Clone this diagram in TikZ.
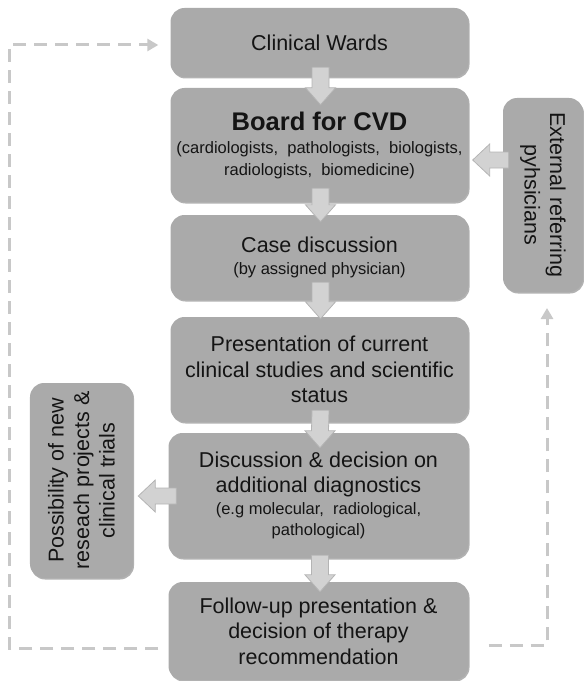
\documentclass[tikz,border=0pt]{standalone}
\usepackage{fontspec}
\setmainfont{Liberation Sans}
\usetikzlibrary{arrows.meta,calc,shadows}
\definecolor{boxgray}{RGB}{170,170,170}
\definecolor{arrfill}{RGB}{210,210,210}
\definecolor{arrline}{RGB}{180,180,180}
\definecolor{dashgray}{RGB}{200,200,200}
\definecolor{txtcol}{RGB}{20,20,20}
\newcommand\mainsz{\fontsize{21.5bp}{25.5bp}\selectfont}
\newcommand\smallsz{\fontsize{16.5bp}{19.5bp}\selectfont}
\newcommand\boldsz{\fontsize{25.5bp}{29bp}\selectfont\bfseries}
\begin{document}
\begin{tikzpicture}[x=1bp,y=-1bp,
  flowbox/.style={rectangle, rounded corners=14bp, fill=boxgray, text=txtcol,
    align=center, inner sep=0pt, font=\mainsz,
    drop shadow={shadow xshift=1bp, shadow yshift=-1.5bp, opacity=0.3, fill=black}},
  blockarrow/.style={fill=arrfill, draw=arrline, line width=0.8bp, line join=miter},
  vblock/.style={to path={($(\tikztostart)+(-8.5bp,0bp)$) -- ($(\tikztotarget)+(-8.5bp,17bp)$)
     -- ($(\tikztotarget)+(-15bp,17bp)$) -- (\tikztotarget) -- ($(\tikztotarget)+(15bp,17bp)$)
     -- ($(\tikztotarget)+(8.5bp,17bp)$) -- ($(\tikztostart)+(8.5bp,0bp)$) -- cycle}},
  hblock/.style={to path={($(\tikztostart)+(0bp,8bp)$) -- ($(\tikztotarget)+(17bp,8bp)$)
     -- ($(\tikztotarget)+(17bp,16bp)$) -- (\tikztotarget) -- ($(\tikztotarget)+(17bp,-16bp)$)
     -- ($(\tikztotarget)+(17bp,-8bp)$) -- ($(\tikztostart)+(0bp,-8bp)$) -- cycle}},
  dashline/.style={draw=dashgray, line width=3bp, dash pattern=on 13bp off 8bp},
  dashtip/.style={-{Triangle[length=11bp,width=12bp]}}
]
\useasboundingbox (0,0) rectangle (584,681);

% main column
\node[flowbox, minimum width=298bp, minimum height=69bp] (cw) at (319.5,42.5) {Clinical Wards};
\node[flowbox, minimum width=298bp, minimum height=114bp] (board) at (319.5,145)
  {{\boldsz Board for CVD}\\[-2bp]{\smallsz (cardiologists, \ pathologists, \ biologists,}\\[-4bp]{\smallsz radiologists, \ biomedicine)}};
\node[flowbox, minimum width=298bp, minimum height=85bp] (case) at (319.5,257.5)
  {Case discussion\\[-4bp]{\smallsz (by assigned physician)}};
\node[flowbox, minimum width=298bp, minimum height=105bp] (pres) at (319.5,369.5)
  {Presentation of current\\clinical studies and scientific\\status};
\node[flowbox, minimum width=300bp, minimum height=125bp] (disc) at (318.5,495.5)
  {Discussion \& decision on\\additional diagnostics\\[-4bp]{\smallsz (e.g molecular, \ radiological,}\\[-4bp]{\smallsz pathological)}};
\node[flowbox, minimum width=300bp, minimum height=98bp] (fu) at (318.5,631)
  {Follow-up presentation \&\\decision of therapy\\recommendation};

% side boxes
\node[flowbox, rotate=-90, minimum width=194bp, minimum height=80bp] (ext) at (543,195)
  {External referring\\pyhsicians};
\node[flowbox, rotate=90, minimum width=195bp, minimum height=103bp] (poss) at (81.5,480.5)
  {Possibility of new\\reseach projects \&\\clinical trials};

% block arrow end points
\coordinate (a1s) at ($(cw.south)+(1,-10)$);
\coordinate (a1e) at ($(board.north)+(1,17)$);
\coordinate (a2s) at ($(board.south)+(1,-14)$);
\coordinate (a2e) at ($(case.north)+(1,7)$);
\coordinate (a3s) at ($(case.south)+(1,-18)$);
\coordinate (a3e) at ($(pres.north)+(1,2)$);
\coordinate (a4s) at ($(pres.south)+(1,-12)$);
\coordinate (a4e) at ($(disc.north)+(1.5,15)$);
\coordinate (a5s) at ($(disc.south)+(1.5,-3)$);
\coordinate (a5e) at ($(fu.north)+(1.5,10)$);
\coordinate (h1s) at ($(board.east)+(40,15)$);
\coordinate (h1e) at ($(board.east)+(4,15)$);
\coordinate (h2s) at ($(disc.west)+(8,0.5)$);
\coordinate (h2e) at ($(disc.west)+(-30,0.5)$);

\draw[blockarrow] (a1s) to[vblock] (a1e);
\draw[blockarrow] (a2s) to[vblock] (a2e);
\draw[blockarrow] (a3s) to[vblock] (a3e);
\draw[blockarrow] (a4s) to[vblock] (a4e);
\draw[blockarrow] (a5s) to[vblock] (a5e);
\draw[blockarrow] (h1s) to[hblock] (h1e);
\draw[blockarrow] (h2s) to[hblock] (h2e);

% dashed feedback loops
\draw[dashline, dashtip] ($(fu.west)+(-10,17)$) -- ($(fu.west)+(-159,17)$)
  |- ($(cw.west)+(-12,2.5)$);
\draw[dashline, dashtip] ($(fu.east)+(20,14)$) -| ($(ext.center)+(4,113)$);
\end{tikzpicture}
\end{document}
